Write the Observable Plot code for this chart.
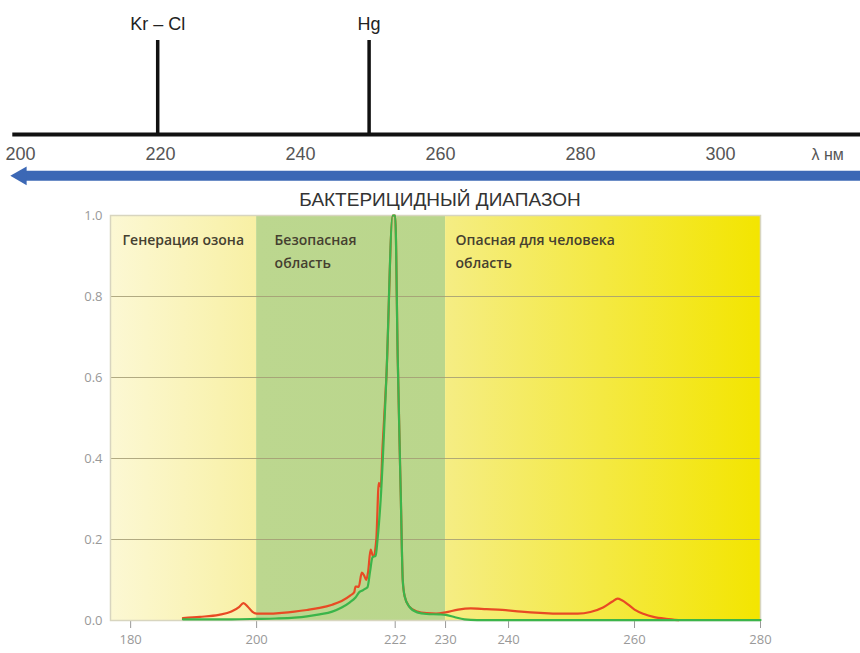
<!DOCTYPE html>
<html><head><meta charset="utf-8">
<script src="https://cdn.jsdelivr.net/npm/d3@7"></script>
<script src="https://cdn.jsdelivr.net/npm/@observablehq/plot@0.6"></script>
<style>
body{margin:0;background:#fff;}
#wrap{position:relative;width:860px;height:653px;overflow:hidden;font-family:"Liberation Sans",Arial,sans-serif;}
#top{position:absolute;left:0;top:0;}
#title{position:absolute;left:10px;top:189px;width:860px;text-align:center;font-size:19px;color:#333;line-height:22px;}
#bottom{position:absolute;left:0;top:200px;}
</style></head><body>
<div id="wrap"><div id="top"></div><div id="title"></div><div id="bottom"></div></div>
<script>
// ---- top scale (schematic) ----
const topTicks = [200, 220, 240, 260, 280, 300];
const topUnit = "λ нм";
const topUnitAt = 313;
const lampNames = ["Kr – Cl", "Hg"];
const lampNm = [219.6, 249.8];
const scaleSpan = [198.9, 330];
const bactericidalSpan = [200.1, 330];
const bandTitle = "БАКТЕРИЦИДНЫЙ ДИАПАЗОН";

// ---- bottom chart ----
const zoneNames = ["Генерация озона", "Безопасная\nобласть", "Опасная для человека\nобласть"];
const zoneStart = [176.8, 200, 230];
const zoneEnd = [200, 230, 280];
const xTicks = [180, 200, 222, 230, 240, 260, 280];
const yTicks = [0, 0.2, 0.4, 0.6, 0.8, 1.0];
const gridY = [0.2, 0.4, 0.6, 0.8];

const redWl = [188.3,191,194,196,197.2,197.9,198.6,199.3,200,202,204,206,208,210,212,213.5,214.9,215.5,215.7,216.2,216.7,217.1,217.4,217.7,218.1,218.5,219.0,219.4,219.7,220.0,220.6,221.6,222.0,222.4,222.9,223.2,223.5,224.2,225.5,227,228.5,230,232,234,236.5,239,242,245,248,251,253,255,256.5,257.3,258,259,260,261.5,263,265,267];
const redVal = [0.006,0.009,0.014,0.022,0.033,0.043,0.034,0.022,0.017,0.017,0.019,0.022,0.026,0.031,0.039,0.048,0.062,0.07,0.084,0.083,0.118,0.11,0.1,0.12,0.175,0.158,0.2,0.34,0.33,0.43,0.6,1.0,1.0,0.65,0.3,0.1,0.06,0.035,0.022,0.018,0.017,0.02,0.027,0.03,0.028,0.026,0.022,0.019,0.017,0.017,0.021,0.032,0.047,0.054,0.05,0.039,0.027,0.016,0.009,0.004,0.001];
const greenWl = [188.3,192,196,200,203,206,208,210,212,213.5,214.8,215.7,216.3,216.8,217.2,217.6,218.0,218.4,218.9,219.2,219.7,220.6,221.6,222.0,222.4,222.9,223.2,223.5,224.2,225.5,227,229,230,231.5,233,235,240,260,280];
const greenVal = [0.003,0.003,0.003,0.004,0.005,0.007,0.01,0.015,0.022,0.032,0.045,0.057,0.07,0.074,0.078,0.082,0.12,0.156,0.16,0.2,0.3,0.6,1.0,1.0,0.65,0.3,0.1,0.06,0.035,0.02,0.016,0.015,0.014,0.008,0.003,0.001,0.001,0.001,0.001];

// ---- build tables ----
const row = {peak: 1, axis: 0, arrow: -0.44};
const lamps = lampNames.map((name, i) => ({name, nm: lampNm[i]}));
const zones = zoneNames.map((name, i) => ({name, x1: zoneStart[i], x2: zoneEnd[i]}));
const red = redWl.map((x, i) => ({x, y: redVal[i]}));
const green = greenWl.map((x, i) => ({x, y: greenVal[i]}));

document.getElementById("title").textContent = bandTitle;

const topFont = "Liberation Sans, Arial, sans-serif";
const topChart = Plot.plot({
  width: 860, height: 190,
  marginTop: 0, marginBottom: 0, marginLeft: 0, marginRight: 0,
  style: {fontFamily: topFont, background: "transparent", overflow: "visible"},
  x: {domain: [200, 300], range: [20, 720], axis: null},
  y: {domain: [0, 1], range: [134, 40], axis: null},
  marks: [
    Plot.ruleY([{y: row.axis, a: scaleSpan[0], b: scaleSpan[1]}], {y: "y", x1: "a", x2: "b", stroke: "#111", strokeWidth: 4}),
    Plot.ruleX(lamps, {x: "nm", y1: () => row.axis, y2: () => row.peak, stroke: "#111", strokeWidth: 3.5}),
    Plot.text(lamps, {x: "nm", y: () => row.peak, text: "name", dy: -16, fontSize: 18, fill: "#222"}),
    Plot.text(topTicks, {x: d => d, y: () => row.axis, text: d => String(d), dy: 20, fontSize: 18, fill: "#555"}),
    Plot.text([topUnit], {x: () => topUnitAt, y: () => row.axis, text: d => d, dy: 20, fontSize: 16, fill: "#555", textAnchor: "start"}),
    Plot.ruleY([{y: row.arrow, a: bactericidalSpan[0], b: bactericidalSpan[1]}], {y: "y", x1: "a", x2: "b", stroke: "#3c68b5", strokeWidth: 10}),
    Plot.dot([{y: row.arrow, a: bactericidalSpan[0]}], {x: "a", y: "y", symbol: "triangle", rotate: -90, r: 7, fill: "#3c68b5", stroke: "none"})
  ]
});
document.getElementById("top").appendChild(topChart);

const bottomChart = Plot.plot({
  width: 860, height: 453,
  marginTop: 15, marginBottom: 33, marginLeft: 110, marginRight: 100,
  style: {fontFamily: "Open Sans, Liberation Sans, sans-serif", fontSize: "13px", color: "#999", background: "transparent"},
  x: {domain: [zoneStart[0], zoneEnd[2]], ticks: xTicks, tickFormat: d => String(d), tickSize: 8, tickPadding: 6, label: null},
  y: {domain: [0, 1], ticks: yTicks, tickFormat: d3.format(".1f"), tickSize: 0, tickPadding: 8, label: null},
  marks: [
    ...zones.map((z, i) => Plot.rect([z], {x1: "x1", x2: "x2", y1: () => 0, y2: () => 1, fill: `url(#zg${i})`})),
    Plot.ruleY(gridY, {stroke: "#a39c74", strokeOpacity: 0.85}),
    Plot.frame({stroke: "#d8d5bf", strokeWidth: 1.5}),
    Plot.line(red, {x: "x", y: "y", stroke: "#e84a24", strokeWidth: 2.2, curve: "monotone-x"}),
    Plot.line(green, {x: "x", y: "y", stroke: "#3bb54a", strokeWidth: 2.2, curve: "monotone-x"}),
    ...zones.map((z, i) => Plot.text([z], {x: "x1", y: () => 1, text: "name", dx: [12, 18, 10][i], dy: 13,
      textAnchor: "start", lineAnchor: "top", lineHeight: 1.65, fontSize: 14, fontWeight: 600, fill: "#454030",
      fontFamily: "Open Sans, sans-serif"}))
  ]
});
const svgB = d3.select(bottomChart);
const defs = svgB.insert("defs", ":first-child");
[["zg0", "#fcf8d4", "#f8f0a4"], ["zg1", "#bcd78f", "#bad68c"], ["zg2", "#f5ed84", "#f3e500"]].forEach(([id, c0, c1]) => {
  const g = defs.append("linearGradient").attr("id", id).attr("x1", "0").attr("x2", "1").attr("y1", "0").attr("y2", "0");
  g.append("stop").attr("offset", "0").attr("stop-color", c0);
  g.append("stop").attr("offset", "1").attr("stop-color", c1);
});
document.getElementById("bottom").appendChild(bottomChart);
</script>
</body></html>
